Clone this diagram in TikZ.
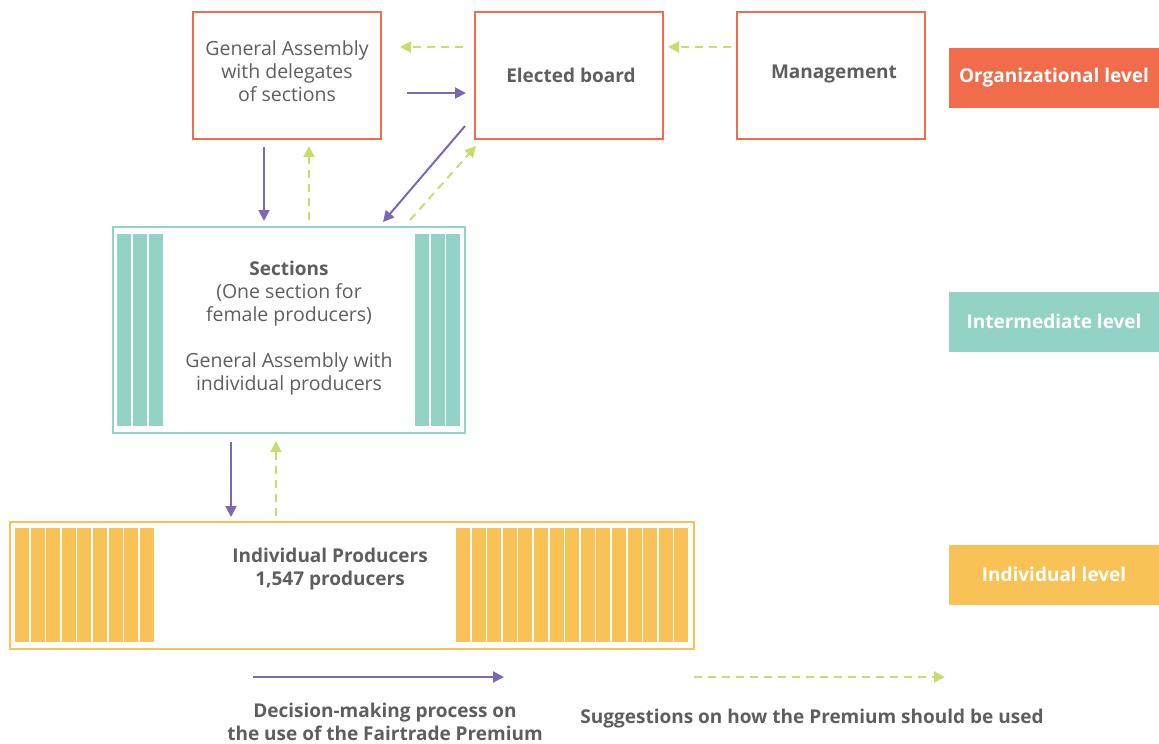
\documentclass[tikz,border=0pt]{standalone}
\usepackage{fontspec}
\IfFontExistsTF{Open Sans SemiBold}{\setmainfont{Open Sans}[BoldFont={Open Sans SemiBold}]}{\setmainfont{Open Sans}}
\usetikzlibrary{arrows.meta}
\definecolor{orgc}{HTML}{F06C4B}
\definecolor{tealc}{HTML}{92D3C5}
\definecolor{yelc}{HTML}{F8C256}
\definecolor{purc}{HTML}{7B68B0}
\definecolor{grnc}{HTML}{C8DD6C}
\definecolor{txtc}{HTML}{5E5E5E}
\tikzset{
  txt/.style={text=txtc, font=\fontsize{19.5}{23}\selectfont, align=center, inner sep=0pt},
  btxt/.style={txt, font=\fontsize{19}{23}\selectfont\bfseries},
  orgbox/.style={draw=orgc, line width=2pt, minimum width=188pt, minimum height=127pt, inner sep=0pt},
  lvl/.style={minimum width=210pt, minimum height=60pt, inner sep=0pt, text=white, font=\fontsize{19}{23}\selectfont\bfseries},
  dec/.style={draw=purc, line width=2pt, -{Triangle[length=11pt,width=11pt]}},
  sug/.style={draw=grnc, line width=2pt, dash pattern=on 8pt off 6pt, -{Triangle[length=11pt,width=11pt]}},
}
\begin{document}
\begin{tikzpicture}[x=1pt,y=-1pt]
\useasboundingbox (0,0) rectangle (1159,744);
% organizational level boxes
\node[orgbox] (ga) at (287,75.5) {};
\node[txt] (gat) at (287,71) {General Assembly\\with delegates\\of sections};
\node[orgbox] (eb) at (569,75.5) {};
\node[btxt] (ebt) at (571,75) {Elected board};
\node[orgbox] (mg) at (831,75.5) {};
\node[btxt] (mgt) at (834,74) {Management};
% level labels
\node[lvl, fill=orgc] (lorg) at (1054,78) {Organizational level};
\node[lvl, fill=tealc] (lint) at (1054,321.5) {Intermediate level};
\node[lvl, fill=yelc] (lind) at (1054,574.5) {Individual level};
% sections box
\node[draw=tealc, line width=2pt, minimum width=352pt, minimum height=206pt, inner sep=0pt] (sec) at (289,330) {};
\foreach \x in {117,133,149,415,431,446} \fill[tealc] (\x,234) rectangle (\x+14,426);
\node[txt] (sect) at (289,328) {{\fontsize{19}{23}\selectfont\bfseries Sections}\\(One section for\\female producers)\\[23pt]General Assembly with\\individual producers};
% individual producers box
\node[draw=yelc, line width=2pt, minimum width=684pt, minimum height=127pt, inner sep=0pt] (ind) at (352,585) {};
\foreach \i in {0,...,8} \fill[yelc] ({15+15.6*\i},528) rectangle ({29+15.6*\i},642);
\foreach \i in {0,...,14} \fill[yelc] ({456+15.6*\i},528) rectangle ({470+15.6*\i},642);
\node[btxt] (indt) at (330,569) {Individual Producers\\1,547 producers};
% connector end points
\coordinate (c1a) at (463,47); \coordinate (c1b) at (400,47);
\coordinate (c2a) at (407,93); \coordinate (c2b) at (466,93);
\coordinate (c3a) at (731,47); \coordinate (c3b) at (668,47);
\coordinate (c4a) at (264,147); \coordinate (c4b) at (264,221);
\coordinate (c5a) at (309,220); \coordinate (c5b) at (309,146);
\coordinate (c6a) at (465,126); \coordinate (c6b) at (383,222);
\coordinate (c7a) at (410,220); \coordinate (c7b) at (476,146);
\coordinate (c8a) at (231,442); \coordinate (c8b) at (231,517);
\coordinate (c9a) at (276,516); \coordinate (c9b) at (276,441);
\draw[sug] (c1a) -- (c1b);
\draw[dec] (c2a) -- (c2b);
\draw[sug] (c3a) -- (c3b);
\draw[dec] (c4a) -- (c4b);
\draw[sug] (c5a) -- (c5b);
\draw[dec] (c6a) -- (c6b);
\draw[sug] (c7a) -- (c7b);
\draw[dec] (c8a) -- (c8b);
\draw[sug] (c9a) -- (c9b);
% legend
\coordinate (l1a) at (253,677); \coordinate (l1b) at (504,677);
\coordinate (l2a) at (694,677); \coordinate (l2b) at (945,677);
\draw[dec] (l1a) -- (l1b);
\draw[sug] (l2a) -- (l2b);
\node[btxt] (l1t) at (385,722) {Decision-making process on\\the use of the Fairtrade Premium};
\node[btxt] (l2t) at (812,719) {Suggestions on how the Premium should be used};
\end{tikzpicture}
\end{document}
